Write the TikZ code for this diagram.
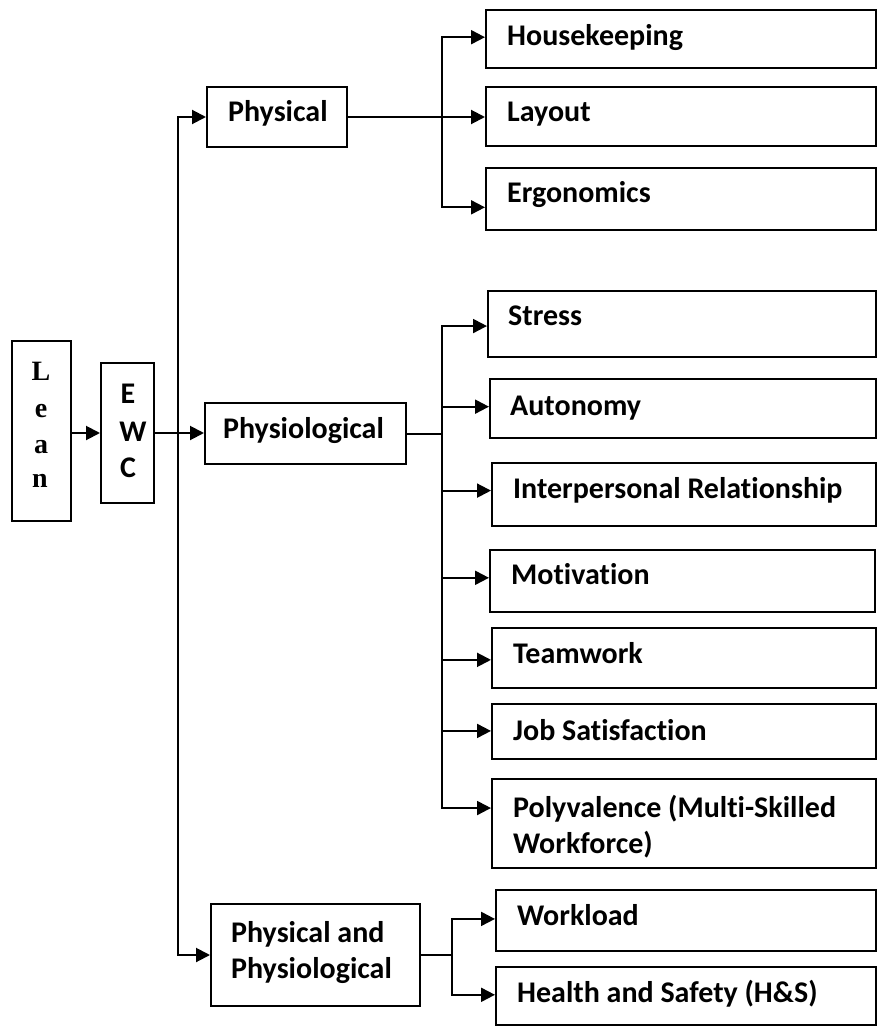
\documentclass[tikz,border=0pt]{standalone}
\usepackage{fontspec}
\setmainfont{Carlito}[RawFeature=-liga]
\newfontfamily\leanfont{Liberation Serif}
\usetikzlibrary{arrows.meta,fit,calc}

\begin{document}
\begin{tikzpicture}[x=1pt,y=-1pt,
  box/.style={draw=black, line width=2pt, inner sep=0pt},
  lbl/.style={inner sep=0pt, anchor=base west, font=\fontsize{30}{36}\selectfont\bfseries},
  letter/.style={inner sep=0pt, anchor=base, font=\fontsize{30}{36}\selectfont\bfseries},
  serifletter/.style={inner sep=0pt, anchor=base, font=\leanfont\fontsize{28}{34}\selectfont\bfseries},
  link/.style={line width=2pt, line cap=rect},
  arr/.style={line width=2pt, -{Triangle[length=14pt,width=14pt]}}
]
\useasboundingbox (0,0) rectangle (877,1027);

% ---- boxes ----
\node[box, fit={(12,341)(71,521)}]   (lean)   {};
\node[box, fit={(101,363)(154,503)}] (ewc)    {};
\node[box, fit={(207,87)(347,147)}]  (phys)   {};
\node[box, fit={(205,403)(406,464)}] (physl)  {};
\node[box, fit={(211,904)(420,1006)}] (pp)    {};

\node[box, fit={(486,10)(876,68)}]   (hk)     {};
\node[box, fit={(486,87)(876,146)}]  (lay)    {};
\node[box, fit={(486,168)(876,230)}] (erg)    {};

\node[box, fit={(488,291)(876,357)}] (stress) {};
\node[box, fit={(490,379)(876,438)}] (auto)   {};
\node[box, fit={(492,463)(876,526)}] (inter)  {};
\node[box, fit={(490,550)(875,612)}] (motiv)  {};
\node[box, fit={(492,628)(876,688)}] (team)   {};
\node[box, fit={(492,704)(876,759)}] (job)    {};
\node[box, fit={(492,779)(876,868)}] (poly)   {};

\node[box, fit={(496,890)(876,951)}] (work)   {};
\node[box, fit={(496,967)(876,1025)}] (hs)    {};

% ---- labels ----
\node[serifletter] (l1) at (41,380) {L};
\node[serifletter] (l2) at (41,417) {e};
\node[serifletter] (l3) at (41,453) {a};
\node[serifletter] (l4) at (40,487) {n};

\node[letter] (e1) at (128,403) {E};
\node[letter] (e2) at (133,441) {W};
\node[letter] (e3) at (128,477) {C};

\node[lbl] (physt)  at (228,122) {Physical};
\node[lbl] (physlt) at (223,438) {Physiological};
\node[lbl] (ppt1)   at (231,942) {Physical and};
\node[lbl] (ppt2)   at (231,978) {Physiological};

\node[lbl] (hkt)     at (507,46)  {Housekeeping};
\node[lbl] (layt)    at (507,122) {Layout};
\node[lbl] (ergt)    at (507,202) {Ergonomics};
\node[lbl] (stresst) at (508,325) {Stress};
\node[lbl] (autot)   at (510,415) {Autonomy};
\node[lbl] (intert)  at (513,498) {Interpersonal Relationship};
\node[lbl] (motivt)  at (511,584) {Motivation};
\node[lbl] (teamt)   at (513,663) {Teamwork};
\node[lbl] (jobt)    at (513,740) {Job Satisfaction};
\node[lbl] (polyt1)  at (513,817) {Polyvalence (Multi-Skilled};
\node[lbl] (polyt2)  at (513,853) {Workforce)};
\node[lbl] (workt)   at (517,925) {Workload};
\node[lbl] (hst)     at (517,1002) {Health and Safety (H\&S)};

% ---- branch lines ----
\coordinate (tr) at (178,0);
\coordinate (b1) at (442,0);
\coordinate (b2) at (442,0);
\coordinate (b3) at (452,0);

% entry points on the left side of each box
\coordinate (hk-in)     at ($(hk.north west)!0.47!(hk.south west)$);
\coordinate (erg-in)    at ($(erg.north west)!0.63!(erg.south west)$);
\coordinate (stress-in) at ($(stress.north west)!0.53!(stress.south west)$);
\coordinate (auto-in)   at ($(auto.north west)!0.47!(auto.south west)$);
\coordinate (inter-in)  at ($(inter.north west)!0.44!(inter.south west)$);
\coordinate (motiv-in)  at ($(motiv.north west)!0.45!(motiv.south west)$);
\coordinate (team-in)   at ($(team.north west)!0.53!(team.south west)$);
\coordinate (job-in)    at ($(job.north west)!0.49!(job.south west)$);
\coordinate (poly-in)   at ($(poly.north west)!0.33!(poly.south west)$);
\coordinate (work-in)   at ($(work.north west)!0.475!(work.south west)$);
\coordinate (hs-in)     at ($(hs.north west)!0.48!(hs.south west)$);

% Lean -> EWC -> Physiological
\draw[arr] (lean.east |- ewc.west) -- (ewc.west);
\draw[arr] (ewc.east) -- (ewc.east -| physl.west);

% main trunk
\draw[link] (tr |- phys.west) -- (tr |- pp.west);
\draw[arr] (tr |- phys.west) -- (phys.west);
\draw[arr] (tr |- pp.west) -- (pp.west);

% Physical group
\draw[arr] (phys.east) -- (phys.east -| lay.west);
\draw[link] (b1 |- hk-in) -- (b1 |- erg-in);
\draw[arr] (b1 |- hk-in) -- (hk-in);
\draw[arr] (b1 |- erg-in) -- (erg-in);

% Physiological group
\draw[link] (physl.east) -- (b2 |- physl.east);
\draw[link] (b2 |- stress-in) -- (b2 |- poly-in);
\foreach \t in {stress,auto,inter,motiv,team,job,poly}
  \draw[arr] (b2 |- \t-in) -- (\t-in);

% Physical and Physiological group
\draw[link] (pp.east) -- (b3 |- pp.east);
\draw[link] (b3 |- work-in) -- (b3 |- hs-in);
\draw[arr] (b3 |- work-in) -- (work-in);
\draw[arr] (b3 |- hs-in) -- (hs-in);
\end{tikzpicture}
\end{document}
